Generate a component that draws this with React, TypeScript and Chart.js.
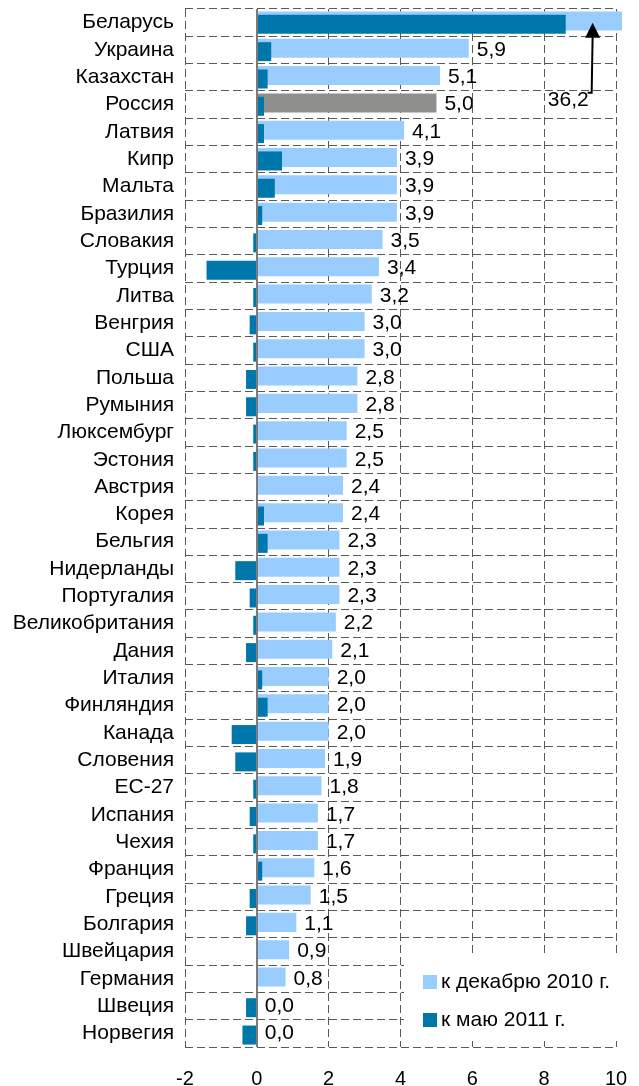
import React, { useEffect, useRef } from 'react';
import { Chart, registerables } from 'chart.js';

Chart.register(...registerables);

const categories = [
  'Беларусь', 'Украина', 'Казахстан', 'Россия', 'Латвия', 'Кипр', 'Мальта', 'Бразилия',
  'Словакия', 'Турция', 'Литва', 'Венгрия', 'США', 'Польша', 'Румыния', 'Люксембург',
  'Эстония', 'Австрия', 'Корея', 'Бельгия', 'Нидерланды', 'Португалия', 'Великобритания',
  'Дания', 'Италия', 'Финляндия', 'Канада', 'Словения', 'ЕС-27', 'Испания', 'Чехия',
  'Франция', 'Греция', 'Болгария', 'Швейцария', 'Германия', 'Швеция', 'Норвегия',
];

// к декабрю 2010 г.
const dec2010 = [
  36.2, 5.9, 5.1, 5.0, 4.1, 3.9, 3.9, 3.9, 3.5, 3.4, 3.2, 3.0, 3.0, 2.8, 2.8, 2.5,
  2.5, 2.4, 2.4, 2.3, 2.3, 2.3, 2.2, 2.1, 2.0, 2.0, 2.0, 1.9, 1.8, 1.7, 1.7, 1.6,
  1.5, 1.1, 0.9, 0.8, 0.0, 0.0,
];

// к маю 2011 г.
const may2011 = [
  8.6, 0.4, 0.3, 0.2, 0.2, 0.7, 0.5, 0.15, -0.1, -1.4, -0.1, -0.2, -0.1, -0.3, -0.3, -0.1,
  -0.1, 0, 0.2, 0.3, -0.6, -0.2, -0.1, -0.3, 0.15, 0.3, -0.7, -0.6, -0.1, -0.2, -0.1, 0.15,
  -0.2, -0.3, 0, 0, -0.3, -0.4,
];

const legendLabels = ['к декабрю 2010 г.', 'к маю 2011 г.'];
const highlighted = 'Россия';
const calloutText = '36,2';
const xMin = -2;
const xMax = 10;
const xStep = 2;

const LIGHT = '#99CCFF';
const DARK = '#0077AA';
const GREY = '#8F8F8B';
const GRID = '#595959';
const FONT = '"Liberation Sans", Arial, sans-serif';
const TEXT_SIZE = 21;

const fmt = (v: number) => v.toFixed(1).replace('.', ',');

const darkOnTop = {
  id: 'darkOnTop',
  beforeDatasetDraw(chart: any, args: any) {
    if (args.index === 1) return false;
    return true;
  },
  afterDatasetsDraw(chart: any) {
    const { ctx, chartArea } = chart;
    ctx.save();
    ctx.beginPath();
    ctx.rect(chartArea.left, chartArea.top, chartArea.right - chartArea.left, chartArea.bottom - chartArea.top);
    ctx.clip();
    chart.getDatasetMeta(1).controller.draw();
    ctx.restore();
  },
};

const overlay = {
  id: 'overlay',
  afterDatasetsDraw(chart: any) {
    const { ctx, chartArea } = chart;
    const xs = chart.scales.x;
    const ys = chart.scales.y;
    ctx.save();
    // zero axis
    const x0 = Math.round(xs.getPixelForValue(0));
    ctx.strokeStyle = '#7A7A7A';
    ctx.lineWidth = 2;
    ctx.beginPath();
    ctx.moveTo(x0, chartArea.top);
    ctx.lineTo(x0, chartArea.bottom);
    ctx.stroke();

    // value labels
    ctx.fillStyle = '#000';
    ctx.font = `${TEXT_SIZE}px ${FONT}`;
    ctx.textAlign = 'left';
    ctx.textBaseline = 'middle';
    dec2010.forEach((v, i) => {
      if (v > xMax) return;
      const x = xs.getPixelForValue(Math.max(v, 0)) + 8;
      const y = ys.getPixelForValue(i);
      ctx.fillText(fmt(v), x, y);
    });

    // callout arrow for the off-scale value
    const ax = xs.getPixelForValue(9.35);
    const tipY = ys.getPixelForValue(0);
    const baseY = ys.getPixelForValue(2.57);
    ctx.strokeStyle = '#000';
    ctx.lineWidth = 2;
    ctx.beginPath();
    ctx.moveTo(ax, tipY + 12);
    ctx.lineTo(ax - 1, baseY);
    ctx.lineTo(ax - 5, baseY);
    ctx.stroke();
    ctx.fillStyle = '#000';
    ctx.beginPath();
    ctx.moveTo(ax, tipY);
    ctx.lineTo(ax + 7.5, tipY + 15);
    ctx.lineTo(ax - 7.5, tipY + 15);
    ctx.closePath();
    ctx.fill();
    ctx.textAlign = 'right';
    ctx.fillText(calloutText, ax - 4, baseY + 7);
    ctx.restore();
  },
  afterDraw(chart: any) {
    const { ctx, chartArea } = chart;
    ctx.save();
    const left = chartArea.right - 212;
    const top = chartArea.bottom - 90;
    ctx.fillStyle = '#fff';
    ctx.fillRect(left, top, chartArea.right + 4 - left, chartArea.bottom - 9 - top);
    const colors = [LIGHT, DARK];
    const centers = [chartArea.bottom - 65, chartArea.bottom - 27];
    ctx.font = `${TEXT_SIZE}px ${FONT}`;
    ctx.textAlign = 'left';
    ctx.textBaseline = 'middle';
    legendLabels.forEach((lab, i) => {
      ctx.fillStyle = colors[i];
      ctx.fillRect(chartArea.right - 193, centers[i] - 7, 14, 14);
      ctx.fillStyle = '#000';
      ctx.fillText(lab, chartArea.right - 175, centers[i]);
    });
    ctx.restore();
  },
};

export default function App() {
  const ref = useRef<HTMLCanvasElement>(null);
  useEffect(() => {
    document.body.style.margin = '0';
    const canvas = ref.current;
    if (!canvas) return;
    const chart = new Chart(canvas, {
      type: 'bar',
      data: {
        labels: categories,
        datasets: [
          {
            label: legendLabels[0],
            data: dec2010,
            backgroundColor: categories.map((c) => (c === highlighted ? GREY : LIGHT)),
            borderWidth: 0,
            categoryPercentage: 0.249,
            barPercentage: 5.59,
            clip: { left: 0, top: 0, right: 6, bottom: 0 },
          } as any,
          {
            label: legendLabels[1],
            data: may2011,
            backgroundColor: DARK,
            borderWidth: 0,
            categoryPercentage: 0.249,
            barPercentage: 5.59,
          } as any,
        ],
      },
      options: {
        indexAxis: 'y',
        responsive: false,
        animation: false,
        devicePixelRatio: 1,
        layout: { padding: { top: 9, right: 23, bottom: 0, left: 0 } },
        plugins: { legend: { display: false }, tooltip: { enabled: false } },
        scales: {
          x: {
            min: xMin,
            max: xMax,
            ticks: {
              stepSize: xStep,
              color: '#000',
              font: { family: FONT, size: 20 },
              padding: 20,
              callback: (v: any) => String(v),
            },
            grid: {
              color: (c: any) => (c.tick && c.tick.value === 0 ? 'rgba(0,0,0,0)' : GRID),
              lineWidth: 1,
              drawTicks: false,
            },
            border: { display: false, dash: [8, 4] },
            afterFit: (s: any) => {
              s.height = 39;
              s.paddingLeft = 0;
              s.paddingRight = 0;
            },
          },
          y: {
            ticks: { color: '#000', font: { family: FONT, size: TEXT_SIZE }, padding: 11, autoSkip: false },
            grid: { color: GRID, lineWidth: 1, drawTicks: false, offset: true },
            border: { display: false, dash: [8, 4] },
            afterFit: (s: any) => {
              s.width = 185;
              s.paddingTop = 0;
              s.paddingBottom = 0;
            },
          },
        },
      } as any,
      plugins: [darkOnTop, overlay],
    });
    return () => chart.destroy();
  }, []);
  return <canvas ref={ref} width={639} height={1086} style={{ display: 'block' }} />;
}
